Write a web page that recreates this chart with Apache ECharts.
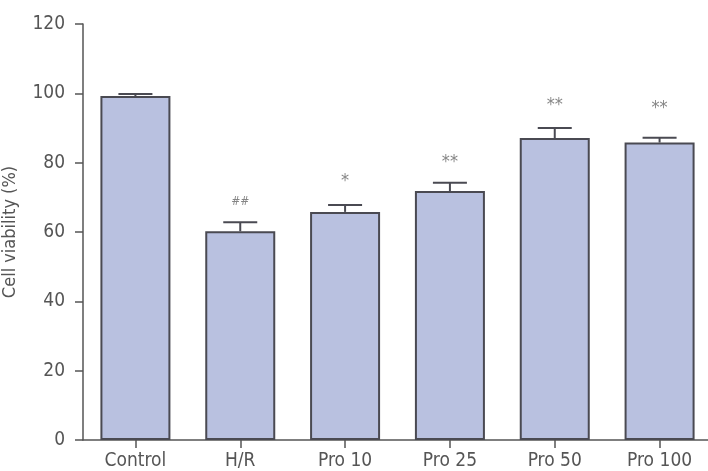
<!DOCTYPE html>
<html>
<head>
<meta charset="utf-8">
<script src="https://cdn.jsdelivr.net/npm/echarts@6/dist/echarts.min.js"></script>
<style>
html, body { margin: 0; padding: 0; background: #fff; }
#chart { width: 708px; height: 471px; }
</style>
</head>
<body>
<div id="chart"></div>
<script>
// values
var groups = ['Control', 'H/R', 'Pro 10', 'Pro 25', 'Pro 50', 'Pro 100'];
var viability = [99.2, 60.2, 65.8, 71.8, 87.1, 85.8];
var sem = [0.6, 2.6, 2.0, 2.4, 2.9, 1.4];
var marks = ['', '##', '*', '**', '**', '**'];
var markY = [null, 68.6, 74.6, 80.1, 96.6, 95.7];
var yTicks = [0, 20, 40, 60, 80, 100, 120];

var FONT = "'DejaVu Sans Condensed', 'Liberation Sans Narrow', sans-serif";
var GREY = '#555';

var errData = groups.map(function(g, i){
	return [i, viability[i], viability[i] + sem[i]];
});

var markData = groups.map(function(g, i){
	return {
		value: [i, markY[i] == null ? 0 : markY[i]],
		label: {
			show: !!marks[i],
			formatter: marks[i],
			fontSize: marks[i] === '##' ? 12 : 18,
			fontStyle: marks[i] === '##' ? 'italic' : 'normal'
		}
	};
});

var chart = echarts.init(document.getElementById('chart'));
chart.setOption({
	animation: false,
	grid: { left: 83, right: -4, top: 24, bottom: 31, outerBoundsMode: 'none', containLabel: false },
	xAxis: {
		type: 'category',
		data: groups,
		axisLine: { lineStyle: { color: GREY, width: 1.5 } },
		axisTick: { show: true, alignWithLabel: true, length: 8, lineStyle: { color: GREY, width: 1.5 } },
		axisLabel: { color: GREY, fontFamily: FONT, fontSize: 19, margin: 12 }
	},
	yAxis: {
		type: 'value',
		min: yTicks[0],
		max: yTicks[yTicks.length - 1],
		interval: 20,
		name: 'Cell viability (%)',
		nameLocation: 'middle',
		nameGap: 64,
		nameTextStyle: { color: GREY, fontFamily: FONT, fontSize: 18 },
		axisLine: { show: true, lineStyle: { color: GREY, width: 1.5 } },
		axisTick: { show: true, length: 8, lineStyle: { color: GREY, width: 1.5 } },
		axisLabel: { color: GREY, fontFamily: FONT, fontSize: 19, margin: 18 },
		splitLine: { show: false }
	},
	series: [
		{
			type: 'bar',
			data: viability,
			barWidth: 70,
			itemStyle: { color: '#b9c1e0', borderColor: '#4a4a52', borderWidth: 2 }
		},
		{
			type: 'custom',
			data: errData,
			z: 3,
			renderItem: function(params, api){
				var x = api.value(0);
				var lo = api.coord([x, api.value(1)]);
				var hi = api.coord([x, api.value(2)]);
				var half = 17;
				var st = { stroke: '#4a4a52', lineWidth: 2 };
				return {
					type: 'group',
					children: [
						{ type: 'line', shape: { x1: lo[0], y1: lo[1], x2: hi[0], y2: hi[1] }, style: st },
						{ type: 'line', shape: { x1: hi[0] - half, y1: hi[1], x2: hi[0] + half, y2: hi[1] }, style: st }
					]
				};
			}
		},
		{
			type: 'scatter',
			data: markData,
			symbolSize: 0,
			silent: true,
			label: { position: 'inside', color: '#666', verticalAlign: 'middle', fontFamily: FONT }
		}
	]
});
</script>
</body>
</html>
